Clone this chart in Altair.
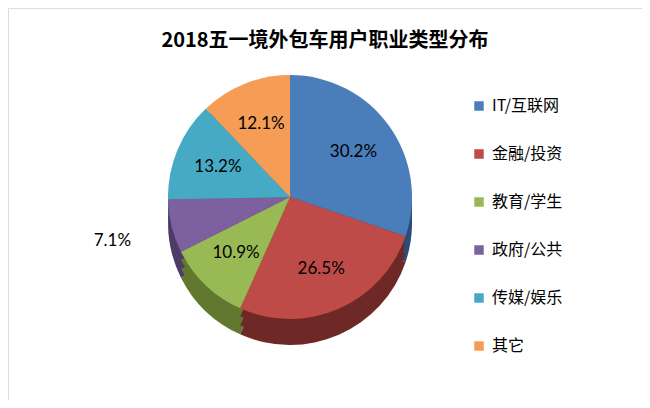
import altair as alt
import pandas as pd

categories = ["IT/互联网", "金融/投资", "教育/学生", "政府/公共", "传媒/娱乐", "其它"]
values = [30.2, 26.5, 10.9, 7.1, 13.2, 12.1]
top_colors = ["#4A7EBB", "#BE4B48", "#98B954", "#7D60A0", "#46AAC5", "#F59D56"]
side_colors = ["#2C4D75", "#6E2826", "#62782F", "#4E3B66", "#2B7D92", "#B5621F"]
title_text = "2018五一境外包车用户职业类型分布"

df = pd.DataFrame({
    "cat": categories,
    "side": [c + " " for c in categories],
    "v": values,
    "idx": list(range(len(categories))),
    "label": [f"{v:.1f}%" for v in values],
})
side_domain = [c + " " for c in categories]

CX, CY, R, DEPTH = 282, 189, 122, 26

base = alt.Chart(df)

sides = []
for off in [DEPTH, DEPTH * 2 // 3, DEPTH // 3]:
    sides.append(
        base.mark_arc(outerRadius=R, x=CX, y=CY + off).encode(
            theta=alt.Theta("v:Q", stack=True),
            fill=alt.Fill("side:N", scale=alt.Scale(domain=side_domain, range=side_colors), legend=None),
            order=alt.Order("idx:Q"),
        )
    )

top = base.mark_arc(outerRadius=R, x=CX, y=CY).encode(
    theta=alt.Theta("v:Q", stack=True),
    color=alt.Color(
        "cat:N",
        scale=alt.Scale(domain=categories, range=top_colors),
        sort=categories,
        legend=alt.Legend(
            title=None,
            orient="none",
            legendX=463,
            legendY=90,
            symbolType="square",
            symbolSize=90,
            labelFont="Noto Sans CJK SC",
            labelFontSize=16,
            labelColor="#000000",
            rowPadding=32,
            labelOffset=5,
        ),
    ),
    order=alt.Order("idx:Q"),
)

labels = base.transform_window(
    cum="sum(v)", sort=[alt.SortField("idx", order="ascending")], frame=[None, 0]
).transform_calculate(
    mid="datum.cum - datum.v / 2",
    r=f"datum.v < 8 ? {R * 1.5} : {R * 0.64}",
).mark_text(x=CX, y=CY, font="Lato", fontSize=17, color="#000000").encode(
    theta=alt.Theta("mid:Q", scale=alt.Scale(domain=[0, 100], range=[0, 6.283185307])),
    radius=alt.Radius("r:Q", scale=None),
    text="label:N",
)

title = alt.Chart(pd.DataFrame({"t": [title_text]})).mark_text(
    font="Noto Sans CJK SC", fontSize=20, fontWeight="bold", color="#000000", baseline="middle"
).encode(x=alt.value(317), y=alt.value(33), text="t:N")

chart = alt.layer(*sides, top, labels, title).resolve_scale(
    theta="independent"
).properties(
    width=634, height=392, padding=0
).configure_view(stroke="#A0A0A0", strokeWidth=2).configure(background="white")

chart.save("out.html", embed_options={"renderer": "svg", "actions": False})
